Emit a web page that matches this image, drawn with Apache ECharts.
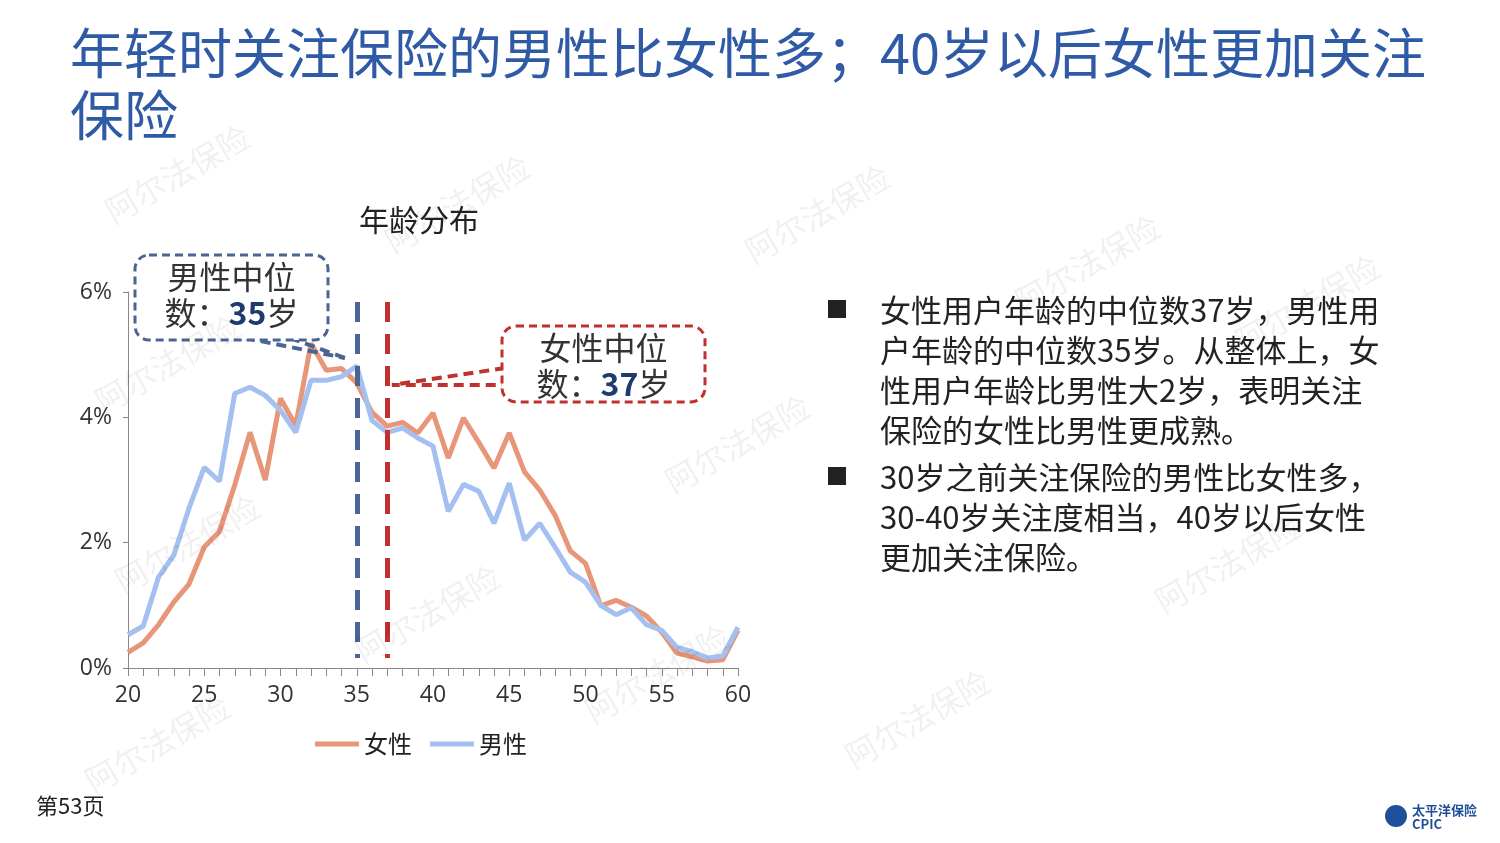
<!DOCTYPE html><html><head><meta charset="utf-8"><script src="https://cdn.jsdelivr.net/npm/echarts@6/dist/echarts.min.js"></script>
<style>body{margin:0;background:#fff}#c{width:1500px;height:843px}</style></head><body><div id="c"></div><script>
const ages=[];for(let a=20;a<=60;a++)ages.push(String(a));
const female=[0.25,0.40,0.69,1.05,1.34,1.93,2.18,2.92,3.76,3.0,4.3,3.87,5.18,4.75,4.78,4.55,4.08,3.86,3.92,3.75,4.07,3.35,3.99,3.6,3.19,3.75,3.13,2.84,2.44,1.87,1.67,0.99,1.08,0.97,0.83,0.57,0.24,0.18,0.11,0.13,0.6];
const male=[0.53,0.67,1.45,1.80,2.55,3.2,2.98,4.38,4.48,4.35,4.11,3.76,4.59,4.59,4.65,4.82,3.95,3.76,3.83,3.67,3.54,2.5,2.93,2.82,2.31,2.95,2.04,2.31,1.93,1.53,1.37,1.0,0.85,0.96,0.69,0.6,0.33,0.26,0.16,0.19,0.65];
const F='"Noto Sans CJK SC",sans-serif';
const wm=[[100,200],[380,230],[740,240],[1010,290],[1230,330],[90,390],[660,470],[110,570],[350,640],[1150,590],[80,770],[580,700],[840,745]].map(p=>({type:'text',x:p[0],y:p[1],rotation:Math.PI/6,style:{text:'阿尔法保险',font:'32px '+F,fill:'rgba(0,0,0,0.06)'},z:100}));
const box=(x,y,w,h,color,l1,l2)=>[
 {type:'rect',shape:{x,y,width:w,height:h,r:14},style:{fill:'#fff',stroke:color,lineWidth:3,lineDash:[8,5]},z:50},
 {type:'text',x:x+w/2,y:y+6,style:{text:l1,font:'32px '+F,fill:'#333',align:'center'},z:51},
 {type:'text',x:x+w/2,y:y+42,style:{rich:{a:{font:'32px '+F,fill:'#333'},b:{font:'bold 32px '+F,fill:'#1f3a6e'}},text:'{a|数：}{b|'+l2+'}{a|岁}',align:'center'},z:51}];
const ch=echarts.init(document.getElementById('c'));
ch.setOption({
 title:{text:'年龄分布',left:414,top:200,textAlign:'center',textStyle:{fontFamily:F,fontSize:30,fontWeight:'normal',color:'#222'}},
 legend:{bottom:82,left:310,itemWidth:44,itemHeight:5,itemGap:18,icon:'rect',textStyle:{fontFamily:F,fontSize:24,color:'#222'},data:['女性','男性']},
 grid:{left:128,right:762,top:292,bottom:175},
 xAxis:{type:'category',data:ages,boundaryGap:false,axisLine:{lineStyle:{color:'#888'}},axisTick:{show:true,interval:0,length:8,inside:false,lineStyle:{color:'#888'}},
  axisLabel:{interval:4,fontFamily:'Open Sans',fontSize:23,color:'#333',margin:16}},
 yAxis:{type:'value',min:0,max:6,interval:2,splitLine:{show:false},axisLine:{show:true,lineStyle:{color:'#888'}},axisTick:{show:true,lineStyle:{color:'#888'}},
  axisLabel:{formatter:'{value}%',fontFamily:'Open Sans',fontSize:23,color:'#333',margin:16}},
 series:[
  {name:'女性',type:'line',data:female,symbol:'none',lineStyle:{width:5,color:'#e8967a'},itemStyle:{color:'#e8967a'},
   markLine:{silent:true,symbol:'none',label:{show:false},lineStyle:{type:[20,12],width:5,color:'#c0302f'},data:[[{xAxis:'37',y:302},{xAxis:'37',y:658}]]}},
  {name:'男性',type:'line',data:male,symbol:'none',lineStyle:{width:5,color:'#a4c0f0'},itemStyle:{color:'#a4c0f0'},
   markLine:{silent:true,symbol:'none',label:{show:false},lineStyle:{type:[20,12],width:5,color:'#4a6494'},data:[[{xAxis:'35',y:302},{xAxis:'35',y:658}]]}}],
 graphic:[
  {type:'text',left:70,top:22,style:{text:'年轻时关注保险的男性比女性多；40岁以后女性更加关注\n保险',font:'54px '+F,fill:'#2f5ba6',lineHeight:62}},
  {type:'polyline',shape:{points:[[245,338],[345,358]]},style:{stroke:'#4a6494',lineWidth:4,lineDash:[10,6]},z:49},
  {type:'polyline',shape:{points:[[290,338],[345,358]]},style:{stroke:'#4a6494',lineWidth:4,lineDash:[10,6]},z:49},
  ...box(135,255,193,85,'#4a6494','男性中位','35'),
  {type:'polyline',shape:{points:[[505,368],[392,385],[505,385]]},style:{stroke:'#c0302f',lineWidth:4,lineDash:[10,6],fill:null},z:49},
  ...box(502,326,203,76,'#c0302f','女性中位','37'),
  {type:'rect',shape:{x:828,y:300,width:18,height:18},style:{fill:'#222'}},
  {type:'rect',shape:{x:828,y:467,width:18,height:18},style:{fill:'#222'}},
  {type:'text',x:880,y:290,style:{text:'女性用户年龄的中位数37岁，男性用\n户年龄的中位数35岁。从整体上，女\n性用户年龄比男性大2岁，表明关注\n保险的女性比男性更成熟。',font:'31px '+F,fill:'#222',lineHeight:40}},
  {type:'text',x:880,y:457,style:{text:'30岁之前关注保险的男性比女性多，\n30-40岁关注度相当，40岁以后女性\n更加关注保险。',font:'31px '+F,fill:'#222',lineHeight:40}},
  {type:'text',x:36,y:795,style:{text:'第53页',font:'22px '+F,fill:'#222'}},
  {type:'circle',shape:{cx:1396,cy:816,r:11},style:{fill:'#1f4f99'}},
  {type:'text',x:1412,y:803,style:{text:'太平洋保险\nCPIC',font:'bold 13px '+F,fill:'#1f4f99',lineHeight:14}},
  ...wm]
});
</script></body></html>
